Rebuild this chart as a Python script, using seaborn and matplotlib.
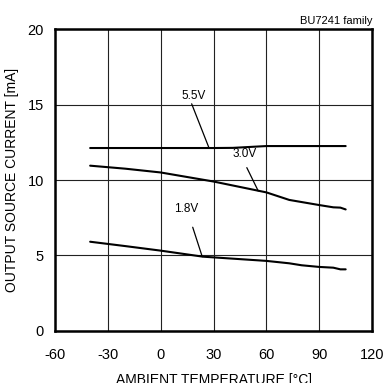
import pandas as pd
import matplotlib.pyplot as plt
import seaborn as sns

# Curve data
temp_55 = [-40, 0, 30, 41, 60, 90, 105]
curr_55 = [12.12, 12.12, 12.12, 12.13, 12.25, 12.25, 12.25]

temp_30 = [-40, -20, 0, 30, 60, 73, 90, 98, 102, 105]
curr_30 = [10.95, 10.75, 10.5, 9.9, 9.18, 8.68, 8.34, 8.19, 8.17, 8.05]

temp_18 = [-40, -20, 0, 24, 60, 73, 80, 90, 98, 102, 105]
curr_18 = [5.91, 5.62, 5.32, 4.92, 4.64, 4.48, 4.35, 4.24, 4.19, 4.08, 4.08]

x_ticks = [-60, -30, 0, 30, 60, 90, 120]
y_ticks = [0, 5, 10, 15, 20]

# label text, text position, leader line start, leader line end
labels = [
    ("5.5V", (18.5, 15.6), (17.6, 15.05), (27.4, 12.14)),
    ("3.0V", (47.5, 11.75), (48.9, 10.82), (55.4, 9.27)),
    ("1.8V", (14.5, 8.1), (18.2, 6.87), (23.6, 4.92)),
]

df = pd.concat([
    pd.DataFrame({"temp": temp_55, "current": curr_55, "vdd": "5.5V"}),
    pd.DataFrame({"temp": temp_30, "current": curr_30, "vdd": "3.0V"}),
    pd.DataFrame({"temp": temp_18, "current": curr_18, "vdd": "1.8V"}),
])

sns.set_theme(style="white")
plt.rcParams['font.family'] = ['Liberation Sans', 'DejaVu Sans']
plt.rcParams['axes.unicode_minus'] = False

fig = plt.figure(figsize=(3.84, 3.83), dpi=100)
ax = fig.add_axes([0.143, 0.136, 0.826, 0.788])

sns.lineplot(data=df, x="temp", y="current", units="vdd", estimator=None,
             color="black", linewidth=1.5, sort=False, ax=ax, legend=False)

for txt, pos, p0, p1 in labels:
    ax.text(pos[0], pos[1], txt, ha="center", va="center", fontsize=8.5, color="black")
    ax.plot([p0[0], p1[0]], [p0[1], p1[1]], color="black", linewidth=0.9)

ax.set_xlim(-60, 120)
ax.set_ylim(0, 20)
ax.set_xticks(x_ticks)
ax.set_yticks(y_ticks)
ax.grid(True, color="#222222", linewidth=0.8)
ax.set_axisbelow(True)
for s in ax.spines.values():
    s.set_color("black")
    s.set_linewidth(1.8)
ax.tick_params(axis="both", length=0, labelsize=10.5, colors="black")
ax.tick_params(axis="x", pad=12)
ax.tick_params(axis="y", pad=8)

ax.set_xlabel("AMBIENT TEMPERATURE [°C]", fontsize=10, color="black", labelpad=8)
ax.set_ylabel("OUTPUT SOURCE CURRENT [mA]", fontsize=10, color="black", labelpad=6)
ax.set_title("BU7241 family", fontsize=8, loc="right", pad=4, color="black")

fig.savefig("out.png", dpi=100, facecolor="white")
